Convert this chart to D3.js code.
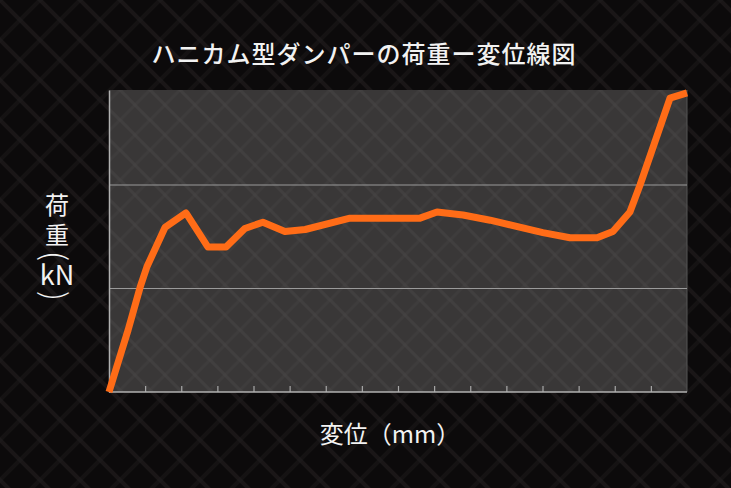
<!DOCTYPE html>
<html><head><meta charset="utf-8">
<script src="https://cdn.jsdelivr.net/npm/d3@7"></script>
<style>
html,body{margin:0;padding:0;background:#0c0a0b;}
svg{display:block;}
text{font-family:"Noto Sans CJK JP","Noto Sans",sans-serif;fill:#f2f2f2;}
</style></head>
<body>
<script>
// data
const displacement = [0, 3, 5.3, 8.6, 10.5, 15.5, 21.3, 27.4, 32.4, 37.6, 42.6, 48.7, 54.3, 66.7, 77.8, 86.1, 90.8, 98, 105.5, 120.1, 127.6, 135.1, 139.5, 144.2, 147, 155.3, 160];
const load = [0, 3.4, 6.0, 10.1, 12.1, 15.9, 17.3, 14.0, 14.0, 15.8, 16.4, 15.5, 15.7, 16.8, 16.8, 16.8, 17.4, 17.1, 16.6, 15.4, 14.9, 14.9, 15.5, 17.4, 20.0, 28.4, 28.9];
const xTicks = d3.range(10, 160, 10);
const yGrid = [10, 20];
const title = "ハニカム型ダンパーの荷重ー変位線図";
const xLabel = "変位（mm）";

const W = 731, H = 488;
const svg = d3.select("body").append("svg").attr("width", W).attr("height", H);
const defs = svg.append("defs");

function hatch(id, bg, fg, size, op1, op2, sw) {
  const p = defs.append("pattern").attr("id", id).attr("patternUnits", "userSpaceOnUse")
    .attr("width", size).attr("height", size);
  p.append("rect").attr("width", size).attr("height", size).attr("fill", bg);
  p.append("path").attr("d", `M0,0L${size},${size}M${-size/2},${size/2}L${size/2},${size*1.5}M${size/2},${-size/2}L${size*1.5},${size/2}`)
    .attr("stroke", fg).attr("stroke-width", sw).attr("opacity", op1);
  p.append("path").attr("d", `M${size},0L0,${size}M${size/2},${-size/2}L${-size/2},${size/2}M${size*1.5},${size/2}L${size/2},${size*1.5}`)
    .attr("stroke", fg).attr("stroke-width", sw).attr("opacity", op2);
}
hatch("bgHatch", "#0c0a0b", "#1f1b1c", 40, 0.7, 0.45, 4);
hatch("plotHatch", "#393737", "#464444", 30, 0.6, 0.35, 3);

svg.append("rect").attr("width", W).attr("height", H).attr("fill", "url(#bgHatch)");

const x = d3.scaleLinear().domain([0, 160]).range([109, 687]);
const y = d3.scaleLinear().domain([0, 29.18]).range([392, 90]);

// plot background
svg.append("rect").attr("x", x(0)).attr("y", y(29.18)).attr("width", x(160) - x(0)).attr("height", y(0) - y(29.18))
  .attr("fill", "url(#plotHatch)");
// right faint edge
svg.append("line").attr("x1", x(160)).attr("x2", x(160)).attr("y1", y(29.18)).attr("y2", y(0))
  .attr("stroke", "#555").attr("stroke-width", 1);

// gridlines
svg.append("g").selectAll("line").data(yGrid).join("line")
  .attr("x1", x(0)).attr("x2", x(160)).attr("y1", d => y(d)).attr("y2", d => y(d))
  .attr("stroke", "#9a9a9a").attr("stroke-width", 1.2);

// x axis
const xAxis = svg.append("g").attr("transform", `translate(0,${y(0)})`)
  .call(d3.axisTop(x).tickValues(xTicks).tickSize(6).tickFormat(""));
xAxis.select(".domain").remove();
xAxis.selectAll(".tick line").attr("stroke", "#a8a8a8").attr("stroke-width", 1.2);
svg.append("line").attr("x1", x(0)).attr("x2", x(160)).attr("y1", y(0)).attr("y2", y(0))
  .attr("stroke", "#b0b0b0").attr("stroke-width", 1.5);
// y axis
const yAxis = svg.append("g").attr("transform", `translate(${x(0)},0)`)
  .call(d3.axisLeft(y).tickValues([]).tickSize(0));
yAxis.select(".domain").attr("stroke", "#b0b0b0").attr("stroke-width", 1.5);

// line
const line = d3.line().x((d, i) => x(displacement[i])).y(d => y(d));
svg.append("path").datum(load).attr("d", line).attr("fill", "none")
  .attr("stroke", "#ff6c17").attr("stroke-width", 7)
  .attr("stroke-linejoin", "round").attr("stroke-linecap", "butt");

// title
svg.append("text").attr("x", 364).attr("y", 63).attr("text-anchor", "middle")
  .attr("font-size", 24).attr("letter-spacing", 1).attr("font-weight", 500).text(title);

// x label
svg.append("text").attr("x", 390).attr("y", 443).attr("text-anchor", "middle")
  .attr("font-size", 24).text(xLabel);

// y label (vertical)
const yl = svg.append("g");
yl.append("text").attr("x", 57).attr("y", 214).attr("text-anchor", "middle").attr("font-size", 24).text("荷");
yl.append("text").attr("x", 57).attr("y", 244).attr("text-anchor", "middle").attr("font-size", 24).text("重");
yl.append("text").attr("transform", "translate(57,256) rotate(90)").attr("text-anchor", "middle")
  .attr("dominant-baseline", "central").attr("font-size", 32).attr("font-weight", 300).text("(");
yl.append("text").attr("x", 57).attr("y", 285).attr("text-anchor", "middle").attr("font-size", 27).text("kN");
yl.append("text").attr("transform", "translate(57,296) rotate(90)").attr("text-anchor", "middle")
  .attr("dominant-baseline", "central").attr("font-size", 32).attr("font-weight", 300).text(")");
</script>
</body></html>
